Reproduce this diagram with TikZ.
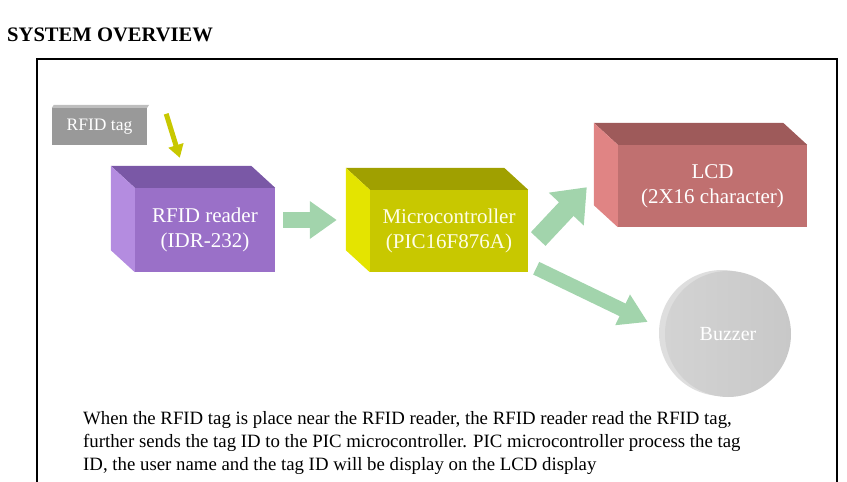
\documentclass[tikz,border=0pt]{standalone}
\usepackage{fontspec}
\setmainfont{Liberation Serif}
\usetikzlibrary{arrows.meta}

\definecolor{readerfront}{HTML}{9A70C8}
\definecolor{readertop}{HTML}{7A58A6}
\definecolor{readerside}{HTML}{B48CE0}
\definecolor{mcufront}{HTML}{C8C800}
\definecolor{mcutop}{HTML}{A0A000}
\definecolor{mcuside}{HTML}{E4E400}
\definecolor{lcdfront}{HTML}{C07070}
\definecolor{lcdtop}{HTML}{9E5A5A}
\definecolor{lcdside}{HTML}{E08484}
\definecolor{taggrey}{HTML}{999999}
\definecolor{tagedge}{HTML}{BEBEBE}
\definecolor{buzzface}{HTML}{C8C8C8}
\definecolor{buzzrim}{HTML}{DEDEDE}
\definecolor{flowgreen}{HTML}{A2D4AC}
\definecolor{tagyellow}{HTML}{C8C800}

\tikzset{
  unitbox/.style={fill=#1, inner sep=0, align=center, text=white,
    font=\fontsize{21}{25}\selectfont},
  flow/.style={draw=flowgreen, line width=#1},
}

\newcommand{\boxfaces}[3]{%
  \fill[#2] (#1.north west) -- ++(-24,-22) -- ([shift={(-24,-22)}]#1.north east)
    -- (#1.north east) -- cycle;
  \fill[#3] (#1.north west) -- ++(-24,-22) -- ([shift={(-24,-22)}]#1.south west)
    -- (#1.south west) -- cycle;
}

\begin{document}
\begin{tikzpicture}[x=1pt, y=-1pt]
  \useasboundingbox (0,0) rectangle (847,482);

  \node[anchor=base west, inner sep=0, font=\bfseries\fontsize{20.6}{24}\selectfont]
    (title) at (7,41) {SYSTEM OVERVIEW};
  \draw[line width=1.2] (37,482) |- (837,59) -- (837,482);

  \node[unitbox=taggrey, minimum width=95, minimum height=37,
    font=\fontsize{17.5}{20}\selectfont] (tag) at (99.5,126.5) {RFID tag};
  \fill[tagedge] (tag.north west) -- ++(2,-3) -- ([shift={(2,-3)}]tag.north east)
    -- (tag.north east) -- cycle;
  \node[unitbox=readerfront, minimum width=140, minimum height=84]
    (reader) at (205,230) {RFID reader\\(IDR-232)};
  \boxfaces{reader}{readertop}{readerside}
  \node[unitbox=mcufront, minimum width=158, minimum height=82, text=white!90!yellow]
    (mcu) at (449,231) {Microcontroller\\(PIC16F876A)};
  \boxfaces{mcu}{mcutop}{mcuside}
  \node[unitbox=lcdfront, minimum width=189, minimum height=82]
    (lcd) at (712.5,186) {LCD\\(2X16 character)};
  \boxfaces{lcd}{lcdtop}{lcdside}

  \fill[buzzrim] (722,333) ellipse [x radius=63pt, y radius=63pt];
  \node[circle, minimum size=126, inner sep=0, left color=buzzface!80!white,
    right color=buzzface, text=white, font=\fontsize{20}{24}\selectfont]
    (buzzer) at (728,334) {Buzzer};

  \draw[draw=tagyellow, line width=5, -{Triangle[length=13pt, width=15pt]}]
    ([shift={(19,6)}]tag.north east) -- ([shift={(45,-30)}]reader.north west);
  \draw[flow=16, -{Triangle[length=27pt, width=36pt]}]
    ([shift={(8,-10)}]reader.east) -- ([shift={(-33,-11)}]mcu.west);
  \draw[flow=20, -{Triangle[length=30pt, width=46pt]}]
    ([shift={(10,8)}]mcu.east) -- ([shift={(-31,-40)}]lcd.south west);
  \draw[flow=14, -{Triangle[length=28pt, width=32pt]}]
    ([shift={(8,-4)}]mcu.south east) -- ([shift={(-17,-12)}]buzzer.west);

  \node[anchor=north west, align=left, inner sep=0, font=\fontsize{18.8}{23}\selectfont]
    (desc) at (83,411) {When the RFID tag is place near the RFID reader, the RFID reader read the RFID tag,\\
    further sends the tag ID to the PIC microcontroller. PIC microcontroller process the tag\\
    ID, the user name and the tag ID will be display on the LCD display};
\end{tikzpicture}
\end{document}
